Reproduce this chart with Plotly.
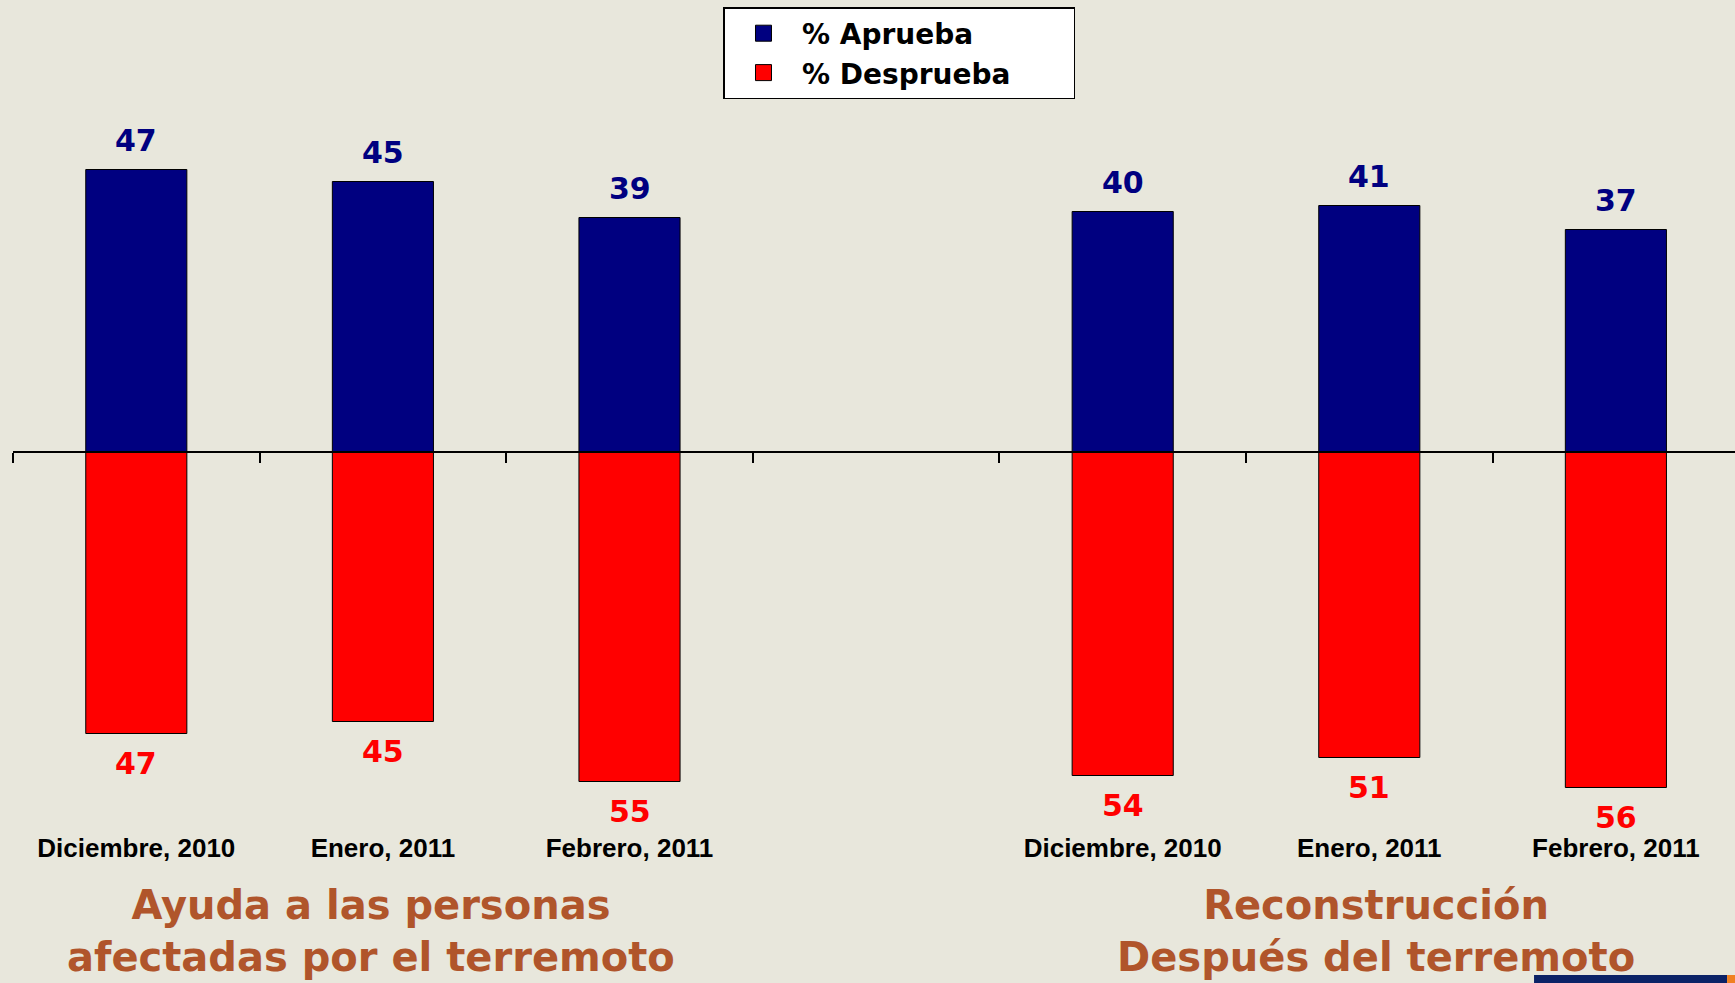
import plotly.graph_objects as go

# data
categories = ["Diciembre, 2010", "Enero, 2011", "Febrero, 2011", "",
              "Diciembre, 2010", "Enero, 2011", "Febrero, 2011"]
aprueba = [47, 45, 39, None, 40, 41, 37]
desaprueba = [47, 45, 55, None, 54, 51, 56]
series_names = ["% Aprueba", "% Desprueba"]
group_titles = ["Ayuda a las personas<br>afectadas por el terremoto",
                "Reconstrucción<br>Después del terremoto"]
group_centers = [1, 5]
group_shift = [-12, 7]

NAVY = "#000080"
RED = "#FF0000"
BROWN = "#B0552B"
BG = "#E8E7DC"

x_pos = list(range(len(categories)))
y_min, y_max = -62.75, 75.25
x_range = [-0.5, 6.483]
plot_h = 828

fig = go.Figure()

fig.add_trace(go.Bar(
    x=x_pos, y=aprueba, marker=dict(color=NAVY, line=dict(color="black", width=1)),
    width=0.41, showlegend=False, hoverinfo="skip"
))
fig.add_trace(go.Bar(
    x=x_pos, y=[-v if v is not None else None for v in desaprueba],
    marker=dict(color=RED, line=dict(color="black", width=1)),
    width=0.41, showlegend=False, hoverinfo="skip"
))

# legend-only entries (trailing spaces widen the box like the original)
pad = "\u00a0" * 6
for name, col in zip(series_names, [NAVY, RED]):
    fig.add_trace(go.Scatter(x=[None], y=[None], mode="markers", name=name + pad,
                             marker=dict(symbol="square", size=16, color=col,
                                         line=dict(color="black", width=1))))

# axis line through zero with boundary ticks
fig.add_trace(go.Scatter(x=[None], y=[None], xaxis="x2", showlegend=False))

# value labels
for x, a, d in zip(x_pos, aprueba, desaprueba):
    if a is None:
        continue
    fig.add_annotation(x=x, y=a, text=f"<b>{a}</b>", showarrow=False,
                       yanchor="middle", yshift=29,
                       font=dict(family="DejaVu Sans", size=30, color=NAVY))
    fig.add_annotation(x=x, y=-d, text=f"<b>{d}</b>", showarrow=False,
                       yanchor="middle", yshift=-30,
                       font=dict(family="DejaVu Sans", size=30, color=RED))

# group titles
for xc, t, s in zip(group_centers, group_titles, group_shift):
    fig.add_annotation(x=xc, xref="x", y=-(904.3 - plot_h) / plot_h, yref="paper",
                       text=f"<b>{t}</b>", showarrow=False, yanchor="top",
                       yshift=24, xshift=s,
                       font=dict(family="DejaVu Sans", size=40, color=BROWN))

zero_frac = -y_min / (y_max - y_min)

fig.update_layout(
    width=1735, height=983,
    margin=dict(l=13, r=0, t=0, b=983 - plot_h),
    paper_bgcolor=BG, plot_bgcolor=BG,
    barmode="relative",
    xaxis=dict(range=x_range, tickvals=[i for i, c in enumerate(categories) if c],
               ticktext=[c for c in categories if c], showline=False, showgrid=False,
               zeroline=False, ticks="", ticklabelstandoff=2,
               tickfont=dict(family="Liberation Sans", size=26,
                             color="black", weight="bold")),
    xaxis2=dict(range=x_range, overlaying="x", anchor="free", position=zero_frac,
                side="bottom", showline=True, linecolor="black", linewidth=2,
                ticks="outside", ticklen=10, tickwidth=2, tickcolor="black",
                tickvals=[i - 0.5 for i in range(len(categories) + 1)],
                showticklabels=False, showgrid=False, zeroline=False),
    yaxis=dict(range=[y_min, y_max], visible=False, showgrid=False, zeroline=False),
    legend=dict(x=0.5148, xanchor="center", y=1 - 7 / plot_h, yanchor="top",
                bgcolor="white", bordercolor="black", borderwidth=1.5,
                font=dict(family="DejaVu Sans", size=28, color="black", weight="bold"),
                itemwidth=67, tracegroupgap=0),
    shapes=[
        dict(type="rect", xref="paper", yref="paper", x0=0.8833, x1=0.9954,
             y0=(plot_h - 983) / plot_h, y1=(plot_h - 975) / plot_h,
             fillcolor="#0B2266", line=dict(width=0)),
        dict(type="rect", xref="paper", yref="paper", x0=0.9954, x1=1.0,
             y0=(plot_h - 983) / plot_h, y1=(plot_h - 975) / plot_h,
             fillcolor="#F08020", line=dict(width=0)),
    ],
)

fig.write_html("out.html", config={"displayModeBar": False},
               post_script="document.body.style.margin='0';")
